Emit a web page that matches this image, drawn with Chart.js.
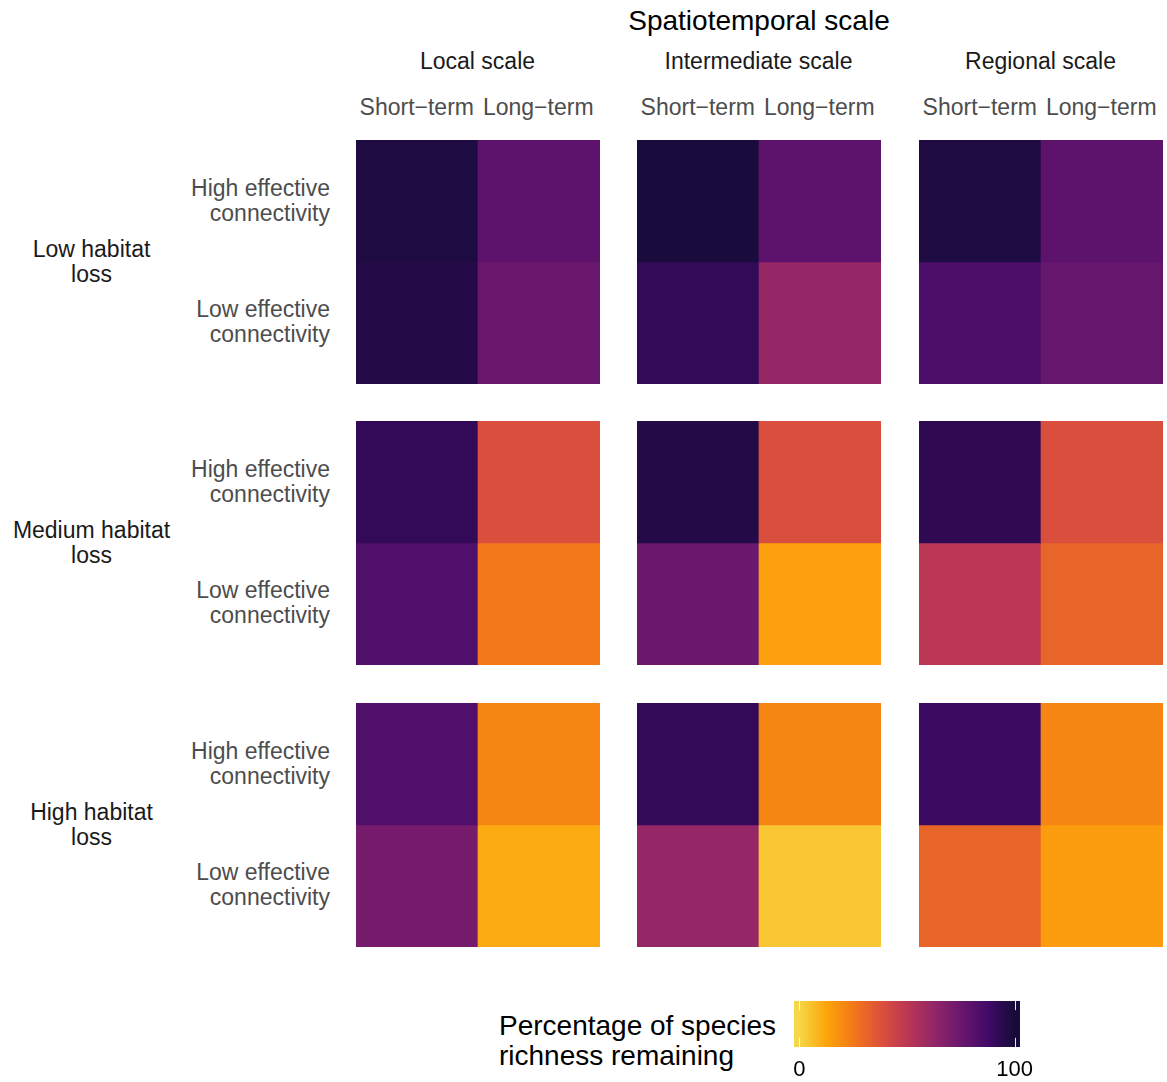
<!DOCTYPE html>
<html>
<head>
<meta charset="utf-8">
<script src="https://cdn.jsdelivr.net/npm/chart.js@4/dist/chart.umd.min.js"></script>
<style>
  html, body { margin: 0; padding: 0; background: #ffffff; }
  body { width: 1167px; height: 1082px; position: relative; overflow: hidden;
         font-family: "Liberation Sans", Arial, Helvetica, sans-serif; }
  .lbl { position: absolute; white-space: nowrap; }
  canvas.cell { position: absolute; }
</style>
</head>
<body>
<script>
// ---- Data --------------------------------------------------------------
const habitatLoss = ['Low habitat\nloss', 'Medium habitat\nloss', 'High habitat\nloss'];
const spatialScales = ['Local scale', 'Intermediate scale', 'Regional scale'];
const timeframes = ['Short\u2212term', 'Long\u2212term'];
const connectivity = ['High effective\nconnectivity', 'Low effective\nconnectivity'];

// Percentage of species richness remaining, ordered
// [Local short, Local long, Intermediate short, Intermediate long, Regional short, Regional long]
const lowLossHighConn  = [98, 79, 99, 79, 98, 79];
const lowLossLowConn   = [96, 75, 92, 62, 84, 76];
const medLossHighConn  = [92, 39, 96, 39, 93, 39];
const medLossLowConn   = [83, 25, 75, 14, 50, 31];
const highLossHighConn = [83, 21, 92, 21, 89, 21];
const highLossLowConn  = [71, 11, 62,  4, 31, 15];

const valuesByLoss = [
  [lowLossHighConn, lowLossLowConn],
  [medLossHighConn, medLossLowConn],
  [highLossHighConn, highLossLowConn]
];

const legendTitle = ['Percentage of species', 'richness remaining'];
const legendTicks = [0, 100];
const fillMin = 0, fillMax = 100;

// ---- Colour scale: inferno, reversed, using the 0.1–0.9 part of the map ----
const inferno = [
  [0, 0, 4], [22, 11, 57], [66, 10, 104], [106, 23, 110], [147, 38, 103],
  [188, 55, 84], [221, 81, 58], [243, 120, 25], [252, 165, 10], [246, 215, 70], [252, 255, 164]
];
function infernoAt(t) {
  t = Math.max(0, Math.min(1, t));
  const p = t * (inferno.length - 1);
  const i = Math.min(inferno.length - 2, Math.floor(p));
  const f = p - i;
  const a = inferno[i], b = inferno[i + 1];
  const c = a.map((v, k) => Math.round(v + (b[k] - v) * f));
  return `rgb(${c[0]},${c[1]},${c[2]})`;
}
function fillColor(v) {
  const s = (v - fillMin) / (fillMax - fillMin);
  return infernoAt(0.9 - 0.8 * s);
}

// ---- Layout --------------------------------------------------------------
const panelLeft = [356, 637, 919];
const panelTop = [140, 421, 703];
const panelSize = 244;

function addLabel(text, x, y, opt) {
  const d = document.createElement('div');
  d.className = 'lbl';
  d.style.left = x + 'px';
  d.style.top = y + 'px';
  d.style.fontSize = opt.size + 'px';
  d.style.lineHeight = (opt.lh || Math.round(opt.size * 1.09)) + 'px';
  d.style.color = opt.color || '#000000';
  d.style.textAlign = opt.align || 'center';
  const tx = opt.align === 'right' ? '-100%' : (opt.align === 'left' ? '0' : '-50%');
  d.style.transform = `translate(${tx}, -50%)`;
  d.innerHTML = text.split('\n').join('<br>');
  document.body.appendChild(d);
}

Chart.defaults.font.family = '"Liberation Sans", Arial, Helvetica, sans-serif';

// Column headers
addLabel('Spatiotemporal scale', 759, 20, { size: 28 });
spatialScales.forEach((s, c) => {
  addLabel(s, panelLeft[c] + 121.5, 61, { size: 23, color: '#1a1a1a' });
  timeframes.forEach((t, j) => {
    addLabel(t, panelLeft[c] + 121.5 * (j + 0.5), 107, { size: 23, color: '#4d4d4d' });
  });
});

// Row headers
habitatLoss.forEach((h, r) => {
  addLabel(h, 91.5, panelTop[r] + 121.5, { size: 23, lh: 25, color: '#1a1a1a' });
  connectivity.forEach((cn, k) => {
    addLabel(cn, 330, panelTop[r] + 121.5 * (k + 0.5), { size: 23, lh: 25, color: '#4d4d4d', align: 'right' });
  });
});

// ---- Heatmap panels: one bar chart per facet --------------------------------
habitatLoss.forEach((h, r) => {
  spatialScales.forEach((s, c) => {
    const cv = document.createElement('canvas');
    cv.className = 'cell';
    cv.width = panelSize; cv.height = panelSize;
    cv.style.left = panelLeft[c] + 'px';
    cv.style.top = panelTop[r] + 'px';
    cv.style.width = panelSize + 'px';
    cv.style.height = panelSize + 'px';
    document.body.appendChild(cv);

    const hi = valuesByLoss[r][0].slice(c * 2, c * 2 + 2);
    const lo = valuesByLoss[r][1].slice(c * 2, c * 2 + 2);

    new Chart(cv, {
      type: 'bar',
      data: {
        labels: timeframes,
        datasets: [
          { label: connectivity[0], data: hi.map(() => [1, 2]), backgroundColor: hi.map(fillColor) },
          { label: connectivity[1], data: lo.map(() => [0, 1]), backgroundColor: lo.map(fillColor) }
        ]
      },
      options: {
        responsive: false,
        maintainAspectRatio: false,
        devicePixelRatio: 1,
        animation: false,
        layout: { padding: 0 },
        datasets: { bar: { barPercentage: 1, categoryPercentage: 1, borderWidth: 0, borderSkipped: false } },
        plugins: { legend: { display: false }, tooltip: { enabled: false }, title: { display: false } },
        scales: {
          x: { display: false, stacked: true, offset: true },
          y: { display: false, stacked: false, min: 0, max: 2 }
        }
      }
    });
  });
});

// ---- Colour bar legend -----------------------------------------------------
addLabel(legendTitle.join('\n'), 499, 1041, { size: 28, lh: 30, color: '#000000', align: 'left' });

const lg = document.createElement('canvas');
lg.className = 'cell';
const lgW = 270, lgH = 94;
lg.width = lgW; lg.height = lgH;
lg.style.left = '780px'; lg.style.top = '991px';
lg.style.width = lgW + 'px'; lg.style.height = lgH + 'px';
document.body.appendChild(lg);

const barTicksPlugin = {
  id: 'barTicks',
  afterDatasetsDraw(chart) {
    const { ctx, chartArea, scales } = chart;
    const len = (chartArea.bottom - chartArea.top) / 5;
    ctx.save();
    ctx.strokeStyle = 'rgba(255,255,255,0.9)';
    ctx.lineWidth = 1;
    legendTicks.forEach(v => {
      const x = Math.round(scales.x.getPixelForValue(v)) + 0.5;
      ctx.beginPath();
      ctx.moveTo(x, chartArea.top); ctx.lineTo(x, chartArea.top + len);
      ctx.moveTo(x, chartArea.bottom - len); ctx.lineTo(x, chartArea.bottom);
      ctx.stroke();
    });
    ctx.restore();
  }
};

// half a bin (of 20) beyond each limit, as in a binned colour bar
const halfBin = (fillMax - fillMin) / 40;

new Chart(lg, {
  type: 'bar',
  data: {
    labels: ['fill'],
    datasets: [{
      data: [[fillMin - halfBin, fillMax + halfBin]],
      backgroundColor(context) {
        const chart = context.chart;
        const xs = chart.scales.x;
        if (!chart.chartArea || !xs) return fillColor(50);
        const x0 = xs.getPixelForValue(fillMin), x1 = xs.getPixelForValue(fillMax);
        if (!isFinite(x0) || !isFinite(x1)) return fillColor(50);
        const g = chart.ctx.createLinearGradient(x0, 0, x1, 0);
        for (let i = 0; i <= 40; i++) {
          const v = fillMin + (fillMax - fillMin) * i / 40;
          g.addColorStop(i / 40, fillColor(v));
        }
        return g;
      }
    }]
  },
  options: {
    indexAxis: 'y',
    responsive: false,
    maintainAspectRatio: false,
    devicePixelRatio: 1,
    animation: false,
    layout: { padding: { left: 14, right: 30, top: 10, bottom: 0 } },
    datasets: { bar: { barPercentage: 1, categoryPercentage: 1, borderWidth: 0, borderSkipped: false } },
    plugins: { legend: { display: false }, tooltip: { enabled: false } },
    scales: {
      y: { display: false },
      x: {
        type: 'linear',
        min: fillMin - halfBin,
        max: fillMax + halfBin,
        grid: { display: false, drawTicks: false },
        border: { display: false },
        afterBuildTicks(scale) { scale.ticks = legendTicks.map(v => ({ value: v })); },
        afterFit(scale) { scale.height = 38; },
        ticks: { color: '#000000', font: { size: 22 }, padding: 10, maxRotation: 0, autoSkip: false }
      }
    }
  },
  plugins: [barTicksPlugin]
});
</script>
</body>
</html>
